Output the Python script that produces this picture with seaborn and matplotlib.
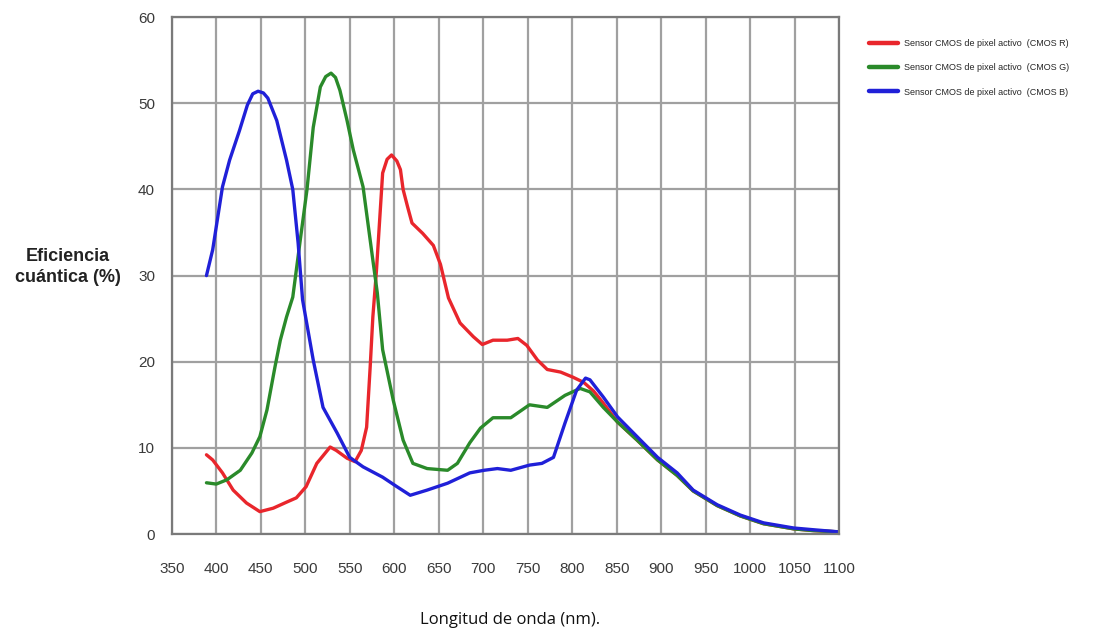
import seaborn as sns
import matplotlib.pyplot as plt
import matplotlib.ticker as mticker
import pandas as pd

# curvas (longitud de onda nm, eficiencia %)
red_x = [389, 396, 407, 419, 434, 449, 464, 479, 490, 501, 513, 528, 535, 547, 556, 563, 569, 573, 576,
         580, 587, 592, 597, 603, 607, 610, 615, 620, 632, 644, 652, 661, 674, 689, 699, 711, 727, 739,
         749, 761, 772, 787, 801, 813, 824, 835, 851, 873, 896, 918, 936, 963, 989, 1015, 1049, 1071, 1100]
red_y = [9.2, 8.6, 7.1, 5.1, 3.6, 2.6, 3.0, 3.7, 4.2, 5.5, 8.2, 10.1, 9.7, 8.8, 8.4, 9.7, 12.4, 19.4, 25.2,
         30.5, 41.9, 43.5, 44.0, 43.3, 42.3, 40.0, 38.0, 36.1, 34.9, 33.5, 31.3, 27.4, 24.5, 22.9, 22.0, 22.5,
         22.5, 22.7, 21.9, 20.2, 19.1, 18.8, 18.2, 17.6, 16.6, 15.2, 13.0, 10.9, 8.6, 6.8, 5.0, 3.3, 2.1, 1.2,
         0.6, 0.4, 0.25]

green_x = [389, 400, 412, 427, 440, 449, 457, 466, 472, 479, 486, 494, 502, 509, 517, 523, 529, 534, 539,
           547, 554, 565, 576, 581, 587, 599, 610, 621, 637, 660, 671, 685, 697, 711, 731, 752, 772, 792,
           809, 820, 835, 851, 873, 896, 918, 936, 963, 989, 1015, 1049, 1071, 1100]
green_y = [5.95, 5.8, 6.3, 7.4, 9.4, 11.3, 14.4, 19.4, 22.5, 25.2, 27.5, 33.8, 40.0, 47.2, 51.9, 53.1, 53.5,
           53.0, 51.5, 48.0, 44.6, 40.3, 31.8, 28.0, 21.4, 15.5, 10.9, 8.2, 7.6, 7.4, 8.2, 10.6, 12.3, 13.5,
           13.5, 15.0, 14.7, 16.1, 16.9, 16.5, 14.7, 13.0, 10.9, 8.6, 6.8, 5.0, 3.3, 2.1, 1.2, 0.6, 0.4, 0.25]

blue_x = [389, 396, 407, 415, 426, 435, 441, 447, 453, 458, 468, 479, 486, 492, 497, 509, 520, 536, 550,
          565, 587, 603, 618, 637, 660, 685, 701, 716, 731, 752, 766, 779, 792, 805, 815, 820, 835, 851,
          873, 896, 918, 936, 963, 989, 1015, 1049, 1071, 1100]
blue_y = [30.0, 33.0, 40.3, 43.4, 46.8, 49.8, 51.1, 51.4, 51.2, 50.6, 48.0, 43.4, 40.0, 33.8, 27.2, 20.2,
          14.7, 11.7, 8.9, 7.8, 6.6, 5.5, 4.5, 5.1, 5.9, 7.1, 7.4, 7.6, 7.4, 8.0, 8.2, 8.9, 12.9, 16.7, 18.1,
          17.9, 15.9, 13.6, 11.3, 8.9, 7.1, 5.1, 3.4, 2.2, 1.3, 0.7, 0.5, 0.25]

labels = ["Sensor CMOS de pixel activo  (CMOS R)",
          "Sensor CMOS de pixel activo  (CMOS G)",
          "Sensor CMOS de pixel activo  (CMOS B)"]
colors = ["#e9262c", "#2a8a2a", "#2020d8"]

x_ticks = list(range(350, 1101, 50))
y_ticks = list(range(0, 61, 10))

df = pd.concat([
    pd.DataFrame({"nm": red_x, "ef": red_y, "serie": labels[0]}),
    pd.DataFrame({"nm": green_x, "ef": green_y, "serie": labels[1]}),
    pd.DataFrame({"nm": blue_x, "ef": blue_y, "serie": labels[2]}),
])

sns.set_style("white")
plt.rcParams["font.family"] = ["Liberation Sans", "DejaVu Sans"]

fig = plt.figure(figsize=(10.94, 6.35), dpi=100)
ax = fig.add_axes([0.157, 0.159, 0.61, 0.814])

sns.lineplot(data=df, x="nm", y="ef", hue="serie", palette=dict(zip(labels, colors)),
             estimator=None, sort=False, linewidth=2.4, ax=ax)
for ln in ax.lines:
    ln.set_solid_joinstyle("round")
    ln.set_solid_capstyle("round")

ax.set_xlim(350, 1100)
ax.set_ylim(0, 60)
ax.set_xticks(x_ticks)
ax.set_yticks(y_ticks)
ax.xaxis.set_minor_locator(mticker.MultipleLocator(10))
ax.yaxis.set_minor_locator(mticker.MultipleLocator(2))
ax.grid(True, which="major", color="#a0a0a0", linewidth=1.6)
ax.tick_params(axis="both", which="major", length=0, labelsize=11, labelcolor="#3a3a3a")
ax.tick_params(axis="x", which="major", pad=20)
ax.tick_params(axis="y", which="major", pad=12)
ax.tick_params(axis="both", which="minor", direction="in", length=3, color="#777777", width=1)
for s in ax.spines.values():
    s.set_color("#7a7a7a")
    s.set_linewidth(1.6)
ax.set_xlabel("")
ax.set_ylabel("")

leg = ax.legend(loc="upper left", bbox_to_anchor=(1.04, 0.965), frameon=False, fontsize=6.5,
                handlelength=3.2, labelspacing=1.7, borderaxespad=0, handletextpad=0.6)
for h in leg.get_lines():
    h.set_linewidth(3.2)

fig.text(0.062, 0.58, "Eficiencia\ncuántica (%)", fontsize=13, fontweight="bold",
         color="#222222", ha="center", va="center", linespacing=1.3)
fig.text(0.466, 0.024, "Longitud de onda (nm).", fontsize=12, color="#111111",
         ha="center", va="center", family=["Open Sans", "DejaVu Sans"])

plt.savefig("out.png", dpi=100)
